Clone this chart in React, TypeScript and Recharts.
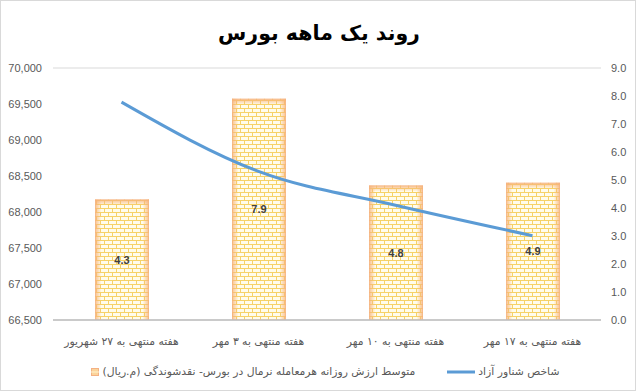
import React from 'react';
import { ComposedChart, Bar, Line, XAxis, YAxis, CartesianGrid, LabelList } from 'recharts';

const categories = ['هفته منتهی به ۲۷ شهریور', 'هفته منتهی به ۳ مهر', 'هفته منتهی به ۱۰ مهر', 'هفته منتهی به ۱۷ مهر'];
const barValues = [4.3, 7.9, 4.8, 4.9];
const lineValues = [69526, 68564, 68094, 67671];
const leftTicks = [66500, 67000, 67500, 68000, 68500, 69000, 69500, 70000];
const rightTicks = [0, 1, 2, 3, 4, 5, 6, 7, 8, 9];
const title = 'روند یک ماهه بورس';
const barName = 'متوسط ارزش روزانه هرمعامله نرمال در بورس- نقدشوندگی (م.ریال)';
const lineName = 'شاخص شناور آزاد';

const data = categories.map((c, i) => ({ name: c, bar: barValues[i], line: lineValues[i] }));

const PERSIAN = '"DejaVu Sans", sans-serif';
const NUM = '"Liberation Sans", Arial, sans-serif';

const BrickBar = (props: any) => {
  const { x, y, width, height } = props;
  if (!width || !height) return null;
  return (
    <g>
      <defs>
        <pattern id="brick" width="8" height="8" patternUnits="userSpaceOnUse">
          <rect x="0" y="0" width="8" height="8" fill="#fffcec" />
          <line x1="0" y1="0.5" x2="8" y2="0.5" stroke="#f6d268" strokeWidth="1" />
          <line x1="0" y1="4.5" x2="8" y2="4.5" stroke="#f6d268" strokeWidth="1" />
          <line x1="0.5" y1="0" x2="0.5" y2="4" stroke="#f6d268" strokeWidth="1" />
          <line x1="4.5" y1="4" x2="4.5" y2="8" stroke="#f6d268" strokeWidth="1" />
        </pattern>
        <linearGradient id="edgeH" x1="0" y1="0" x2="1" y2="0">
          <stop offset="0" stopColor="#f7b47a" stopOpacity="0.85" />
          <stop offset="0.12" stopColor="#f7b47a" stopOpacity="0" />
          <stop offset="0.88" stopColor="#f7b47a" stopOpacity="0" />
          <stop offset="1" stopColor="#f7b47a" stopOpacity="0.85" />
        </linearGradient>
        <linearGradient id="edgeV" x1="0" y1="0" x2="0" y2="1">
          <stop offset="0" stopColor="#f7b47a" stopOpacity="0.85" />
          <stop offset="1" stopColor="#f7b47a" stopOpacity="0" />
        </linearGradient>
      </defs>
      <rect x={x} y={y} width={width} height={height} fill="url(#brick)" />
      <rect x={x} y={y} width={width} height={height} fill="url(#edgeH)" />
      <rect x={x} y={y} width={width} height={Math.min(6, height)} fill="url(#edgeV)" />
      <rect x={x + 0.25} y={y + 0.25} width={width - 0.5} height={height - 0.5} fill="none" stroke="#f4b183" strokeWidth={0.5} />
    </g>
  );
};

const LegendBox = () => (
  <div style={{ position: 'absolute', left: 0, top: 363, width: 636, display: 'flex', justifyContent: 'center', alignItems: 'center', fontFamily: PERSIAN, fontSize: 10.8, color: '#595959', lineHeight: '16px' }}>
    <div style={{ display: 'flex', alignItems: 'center', marginLeft: 12 }}>
      <svg width={8} height={8} style={{ marginRight: 4 }}>
        <rect x={0.5} y={0.5} width={7} height={7} fill="#fbd49b" stroke="#f4b183" strokeWidth={1} />
        <line x1={0} y1={4} x2={8} y2={4} stroke="#fff4d0" strokeWidth={1} />
      </svg>
      <span dir="rtl">{barName}</span>
    </div>
    <div style={{ display: 'flex', alignItems: 'center', marginLeft: 32 }}>
      <svg width={28} height={6} style={{ marginRight: 3 }}>
        <line x1={0} y1={3} x2={28} y2={3} stroke="#5b9bd5" strokeWidth={3} />
      </svg>
      <span dir="rtl">{lineName}</span>
    </div>
  </div>
);

export default function App() {
  return (
    <div style={{ position: 'absolute', left: 0, top: 0, width: 636, height: 391, background: '#fff', boxSizing: 'border-box', border: '1px solid #d9d9d9' }}>
      <div dir="rtl" style={{ position: 'absolute', left: 0, top: 18, width: 636, textAlign: 'center', fontFamily: PERSIAN, fontWeight: 'bold', fontSize: 20.5, color: '#000', lineHeight: '28px' }}>
        {title}
      </div>
      <div style={{ position: 'absolute', left: -1, top: -1 }}>
        <ComposedChart width={636} height={391} data={data} margin={{ top: 68, right: 0, bottom: 41, left: 0 }} barSize={54}>
          <CartesianGrid vertical={false} stroke="#d9d9d9" strokeWidth={1} />
          <XAxis dataKey="name" tickLine={false} axisLine={{ stroke: '#bfbfbf', strokeWidth: 1.5 }} tickMargin={11} tick={{ fontFamily: PERSIAN, fontSize: 10.8, fill: '#595959' }} interval={0} height={30} />
          <YAxis yAxisId="left" orientation="left" domain={[66500, 70000]} ticks={leftTicks} width={53} tickLine={false} axisLine={false} tickMargin={5}
            tickFormatter={(v: number) => v.toLocaleString('en-US')} tick={{ fontFamily: NUM, fontSize: 11, fill: '#595959' }} allowDataOverflow />
          <YAxis yAxisId="right" orientation="right" domain={[0, 9]} ticks={rightTicks} width={35} tickLine={false} axisLine={false} tickMargin={4}
            tickFormatter={(v: number) => v.toFixed(1)} tick={{ fontFamily: NUM, fontSize: 11, fill: '#595959', textAnchor: 'start' }} />
          <Bar yAxisId="right" dataKey="bar" name={barName} shape={BrickBar} isAnimationActive={false}>
            <LabelList dataKey="bar" position="center" formatter={(v: number) => v.toFixed(1)} style={{ fontFamily: NUM, fontSize: 11, fontWeight: 'bold', fill: '#404040' }} />
          </Bar>
          <Line yAxisId="left" dataKey="line" name={lineName} type="monotone" stroke="#5b9bd5" strokeWidth={3} dot={false} activeDot={false} isAnimationActive={false} />
        </ComposedChart>
      </div>
      <LegendBox />
    </div>
  );
}
